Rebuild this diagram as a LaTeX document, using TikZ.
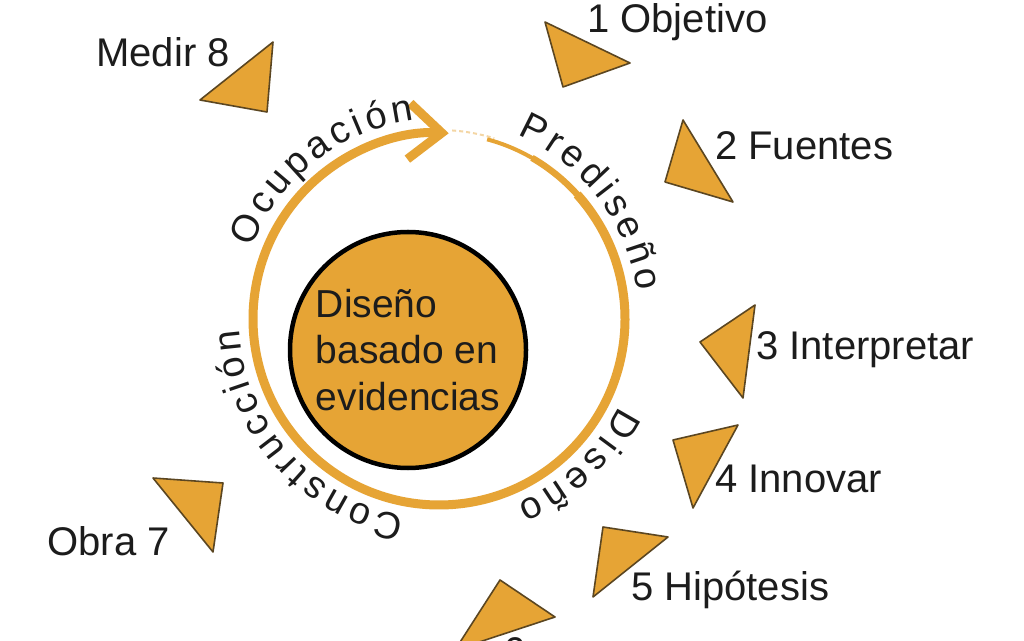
\documentclass[tikz,border=0pt]{standalone}
\usepackage{fontspec}
\setmainfont{Liberation Sans}
\usepackage{tikz}
\usetikzlibrary{positioning,decorations.text,arrows.meta}
\definecolor{ochre}{HTML}{E6A435}
\definecolor{ochreline}{HTML}{5B4621}
\definecolor{inktext}{HTML}{1C1C1C}
\newcommand{\ringfont}{\fontsize{38}{42}\selectfont}

\begin{document}
\begin{tikzpicture}[x=1pt,y=1pt,
tri/.style={
fill=ochre,
draw=ochreline,
line width=1.6pt,
line join=round
},
lbl/.style={font=\fontsize{40}{46}\selectfont,text=inktext,inner sep=0pt},
ring/.style={draw=ochre,line width=9pt},
ringtext/.style={decorate,decoration={text along path,text align=fit to path,text color=inktext}},
]
\useasboundingbox (0,0) rectangle (1024,640);
\clip (0,0) rectangle (1024,640);
\fill[white] (0,0) rectangle (1024,640);
\coordinate (ringc) at (439,321);

% cycle ring with arrow
\draw[ochre!45,line width=2pt,dash pattern=on 4pt off 3pt] ([shift={(86:189)}]ringc) arc[start angle=86,end angle=73,radius=189];
\draw[ring,line width=4pt] ([shift={(75:186)}]ringc) arc[start angle=75,end angle=58,radius=186];
\draw[ring,line width=6.5pt] ([shift={(60:186)}]ringc) arc[start angle=60,end angle=40,radius=186];
\draw[ring,-{Straight Barb[length=33pt,width=56pt]}] ([shift={(42:186)}]ringc) arc[start angle=42,end angle=-273,radius=186];

% phase names along the ring
\path[ringtext,decoration={text={|\ringfont|Ocupación}}] ([shift={(159:200)}]ringc) arc[start angle=159,end angle=97,radius=200];
\path[ringtext,decoration={text={|\ringfont|Prediseño}}] ([shift={(67:200)}]ringc) arc[start angle=67,end angle=8,radius=200];
\path[ringtext,decoration={text={|\ringfont|Diseño}}] ([shift={(-26:200)}]ringc) arc[start angle=-26,end angle=-67,radius=200];
\path[ringtext,decoration={text={|\ringfont|Construcción}}] ([shift={(-100:200)}]ringc) arc[start angle=-100,end angle=-177,radius=200];

% centre
\node (core) [circle,draw=black,line width=4.5pt,fill=ochre,minimum size=236pt,inner sep=0pt,
align=left,font=\fontsize{39}{46.5}\selectfont,text=inktext] at (408,290) {Diseño\\basado en\\evidencias};

% steps
\draw[tri] (545,618) -- (630,577) -- (563,553) -- cycle;
\draw[tri] (683,520) -- (733,438) -- (665,458) -- cycle;
\draw[tri] (755,335) -- (743,242) -- (700,298) -- cycle;
\draw[tri] (738,215) -- (693,132) -- (673,200) -- cycle;
\draw[tri] (603,113) -- (668,103) -- (593,43) -- cycle;
\draw[tri] (500,60) -- (555,23) -- (455,-10) -- cycle;
\draw[tri] (153,162) -- (223,157) -- (213,88) -- cycle;
\draw[tri] (273,598) -- (267,528) -- (200,540) -- cycle;

\node (obj) [lbl,anchor=base west] at (587,607) {1 Objetivo};
\node (fue) [lbl,anchor=base west] at (715,480) {2 Fuentes};
\node (int) [lbl,anchor=base west] at (756,280) {3 Interpretar};
\node (inn) [lbl,anchor=base west] at (715,148) {4 Innovar};
\node (hip) [lbl,anchor=base west] at (631,40) {5 Hipótesis};
\node (six) [lbl,anchor=base west] at (503,-25) {6};
\node (obr) [lbl,anchor=base east] at (170,85) {Obra 7};
\node (med) [lbl,anchor=base east] at (230,573) {Medir 8};
\end{tikzpicture}
\end{document}
